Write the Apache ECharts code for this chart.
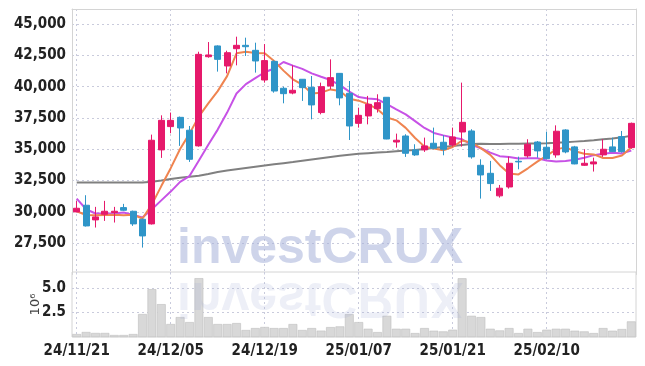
<!DOCTYPE html>
<html><head><meta charset="utf-8">
<script src="https://cdn.jsdelivr.net/npm/echarts@6/dist/echarts.min.js"></script>
<style>html,body{margin:0;padding:0;background:#fff}#c{width:645px;height:366px}</style>
</head><body><div id="c"></div>
<script>
var dates = ["24/11/21","24/11/22","24/11/25","24/11/26","24/11/27","24/11/28","24/11/29","24/12/02","24/12/03","24/12/04",
"24/12/05","24/12/06","24/12/09","24/12/10","24/12/11","24/12/12","24/12/13","24/12/16","24/12/17","24/12/18",
"24/12/19","24/12/20","24/12/23","24/12/24","24/12/26","24/12/27","24/12/30","25/01/02","25/01/03","25/01/06",
"25/01/07","25/01/08","25/01/09","25/01/10","25/01/13","25/01/14","25/01/15","25/01/16","25/01/17","25/01/20",
"25/01/21","25/01/22","25/01/23","25/01/24","25/01/31","25/02/03","25/02/04","25/02/05","25/02/06","25/02/07",
"25/02/10","25/02/11","25/02/12","25/02/13","25/02/14","25/02/17","25/02/18","25/02/19","25/02/20","25/02/21"];
var opens = [30000,30530,29360,29810,29950,30340,30050,29410,29040,34950,36810,37550,36520,35270,42390,43250,41650,43030,43300,42900,
40530,42020,39870,39490,40590,39950,37930,40050,41060,39470,37070,37660,38240,39150,35580,36060,34950,34950,35480,35560,
35350,36380,36460,33720,33080,31280,31990,34040,34470,35580,35160,34550,36540,35190,33720,33830,34550,35190,36010,35130];
var closes = [30290,28880,29600,30050,30050,30130,29040,28080,35720,37310,37310,36700,34200,42580,42530,42180,42710,43300,43190,42050,
42080,39650,39440,39710,39920,38540,40000,40720,39100,36860,37710,38590,38720,35820,35720,34680,34550,35270,35080,35000,
35980,37150,34390,32950,32260,31890,33880,33990,35400,34870,34250,36440,34790,33830,33880,33990,35000,34810,34810,37070];
var lows = [29970,28830,28750,29280,29150,30080,28880,27150,28990,34310,36280,35270,33990,35210,42310,41200,41060,41700,42450,41120,
40320,39520,38670,39390,38860,37390,37790,39790,38510,35740,36730,36990,37930,35800,35130,34390,34470,34790,35000,34520,
35210,35210,34250,31060,31670,31140,31860,33400,34330,34330,34200,34330,34680,33800,33670,33220,34390,34780,34730,35050];
var highs = [30880,31330,30400,30880,30400,30640,30100,29470,36170,37710,37930,37610,36860,42790,43560,43300,42870,43990,43910,43510,
43400,42100,40000,41700,40600,40850,40320,42180,41080,40450,38320,39260,39390,39160,36250,36200,35400,35930,36730,36120,
36730,40320,36600,34200,34070,32150,34410,34410,35800,35660,36410,36910,36600,35270,35000,34330,35800,35930,36460,37130];
var volumes = [0.30,0.51,0.41,0.41,0.20,0.20,0.30,2.34,4.88,3.35,1.32,2.03,1.52,6.00,2.03,1.32,1.32,1.42,0.71,0.91,
1.02,0.91,0.91,1.32,0.71,0.91,0.65,1.01,1.08,2.33,1.52,0.84,0.50,2.16,0.84,0.84,0.40,0.91,0.64,0.57,
0.74,5.99,2.16,2.03,0.84,0.67,0.91,0.40,0.84,0.50,0.74,0.84,0.84,0.64,0.57,0.40,0.91,0.64,0.81,1.59];
var ma5 = [30050,29750,29730,29750,29770,29740,29770,29470,30600,32060,33490,35020,36250,37620,38660,39640,40840,42660,42780,42690,
42670,42050,41280,40590,40160,39450,39520,39780,39660,39040,38880,38600,38200,37540,37310,36710,35900,35210,35060,34920,
35180,35700,35520,35090,34550,33730,33070,32990,33480,34010,34480,34990,35150,34840,34640,34590,34300,34300,34500,35140];
var ma10 = [31060,30210,29870,29870,29870,29950,29760,29550,30210,30920,31620,32400,32860,34110,35360,36570,37930,39450,40200,40680,
41150,41450,41970,41680,41420,41060,40790,40530,40120,39600,39170,39060,38990,38600,38180,37790,37250,36700,36300,36110,
35940,35800,35360,35080,34730,34450,34390,34260,34290,34280,34100,34030,34070,34160,34320,34530,34640,34730,34670,34890];
var maLong = [32340,32340,32340,32340,32340,32340,32340,32340,32400,32500,32620,32720,32800,32880,33030,33190,33300,33400,33500,33600,
33700,33800,33890,33980,34080,34180,34280,34380,34480,34570,34640,34690,34740,34790,34850,34900,34950,35030,35110,35190,
35270,35350,35420,35440,35430,35430,35440,35450,35460,35470,35490,35520,35560,35610,35660,35720,35790,35860,35950,36080];

var ohlc = opens.map(function(o,i){ return [o, closes[i], lows[i], highs[i]]; });
var UP = '#e6196b', DOWN = '#2f95c8';
var FONT = '"Liberation Sans Narrow","DejaVu Sans Condensed",sans-serif';
var gridLine = {show:true, interval:9, alignWithLabel:true, lineStyle:{color:'#c9cbdc', type:[2,3], width:1}};
var chart = echarts.init(document.getElementById('c'), null, {renderer:'canvas'});
chart.setOption({
  animation:false,
  backgroundColor:'#fff',
  grid:[
    {left:72, top:9, width:564, height:265.5, show:false},
    {left:72, top:272, width:564, height:65, show:true, borderColor:'#d4d4d4', borderWidth:1}
  ],
  xAxis:[
    {type:'category', gridIndex:0, data:dates, boundaryGap:true, position:'top',
     axisLine:{show:true, lineStyle:{color:'#d4d4d4'}}, axisTick:{show:false}, axisLabel:{show:false},
     splitLine:gridLine},
    {type:'category', gridIndex:1, data:dates, boundaryGap:true,
     axisLine:{show:false}, axisTick:{show:false},
     axisLabel:{interval:9, color:'#222', fontFamily:FONT, fontSize:15, fontWeight:'bold', margin:7},
     splitLine:gridLine}
  ],
  yAxis:[
    {type:'value', gridIndex:0, min:25000, max:46200, interval:2500, scale:false,
     axisLine:{show:true, lineStyle:{color:'#d4d4d4'}}, axisTick:{show:false},
     axisLabel:{color:'#222', fontFamily:FONT, fontSize:15, fontWeight:'bold', margin:6, showMinLabel:false, showMaxLabel:false,
       formatter:function(v){ return echarts.format.addCommas(v); }},
     splitLine:{show:true, showMinLine:false, showMaxLine:false, lineStyle:{color:'#c9cbdc', type:[2,3]}}},
    {type:'value', gridIndex:0, position:'right', min:25000, max:46200,
     axisLine:{show:true, lineStyle:{color:'#d4d4d4'}}, axisTick:{show:false}, axisLabel:{show:false}, splitLine:{show:false}},
    {type:'value', gridIndex:1, min:0, max:6.63, interval:2.5,
     name:'10\u2076', nameLocation:'middle', nameRotate:90, nameGap:30, nameMoveOverlap:false,
     nameTextStyle:{color:'#444', fontFamily:'"DejaVu Sans", sans-serif', fontSize:13},
     axisLine:{show:false}, axisTick:{show:false},
     axisLabel:{color:'#222', fontFamily:FONT, fontSize:15, fontWeight:'bold', margin:6, showMinLabel:false, showMaxLabel:false,
       formatter:function(v){ return v.toFixed(1); }},
     splitLine:{show:true, showMinLine:false, showMaxLine:false, lineStyle:{color:'#c9cbdc', type:[2,3]}}}
  ],
  series:[
    {type:'line', xAxisIndex:0, yAxisIndex:0, data:maLong, showSymbol:false, smooth:false,
     lineStyle:{color:'#808080', width:2}, z:2},
    {type:'line', xAxisIndex:0, yAxisIndex:0, data:ma10, showSymbol:false,
     lineStyle:{color:'#c752e6', width:2}, z:3},
    {type:'line', xAxisIndex:0, yAxisIndex:0, data:ma5, showSymbol:false,
     lineStyle:{color:'#ef8450', width:2}, z:4},
    {type:'candlestick', xAxisIndex:0, yAxisIndex:0, data:ohlc, barWidth:6.5, z:5,
     itemStyle:{color:UP, color0:DOWN, borderColor:UP, borderColor0:DOWN, borderWidth:1}},
    {type:'bar', xAxisIndex:1, yAxisIndex:2, data:volumes, barCategoryGap:'6%',
     itemStyle:{color:'#d8d8d8', borderColor:'#bdbdbd', borderWidth:0.6}}
  ],
  graphic:[
    {type:'text', x:177, y:274, z:100, silent:true,
     style:{text:'investCRUX', font:'bold 50px "Liberation Sans", sans-serif', fill:'rgba(165,176,216,0.55)', verticalAlign:'bottom'}},
    {type:'text', x:177, y:272, scaleY:-1, z:100, silent:true,
     style:{text:'investCRUX', font:'bold 50px "Liberation Sans", sans-serif', verticalAlign:'bottom',
       fill:'rgba(165,176,216,0.2)'}}
  ]
});
</script></body></html>
